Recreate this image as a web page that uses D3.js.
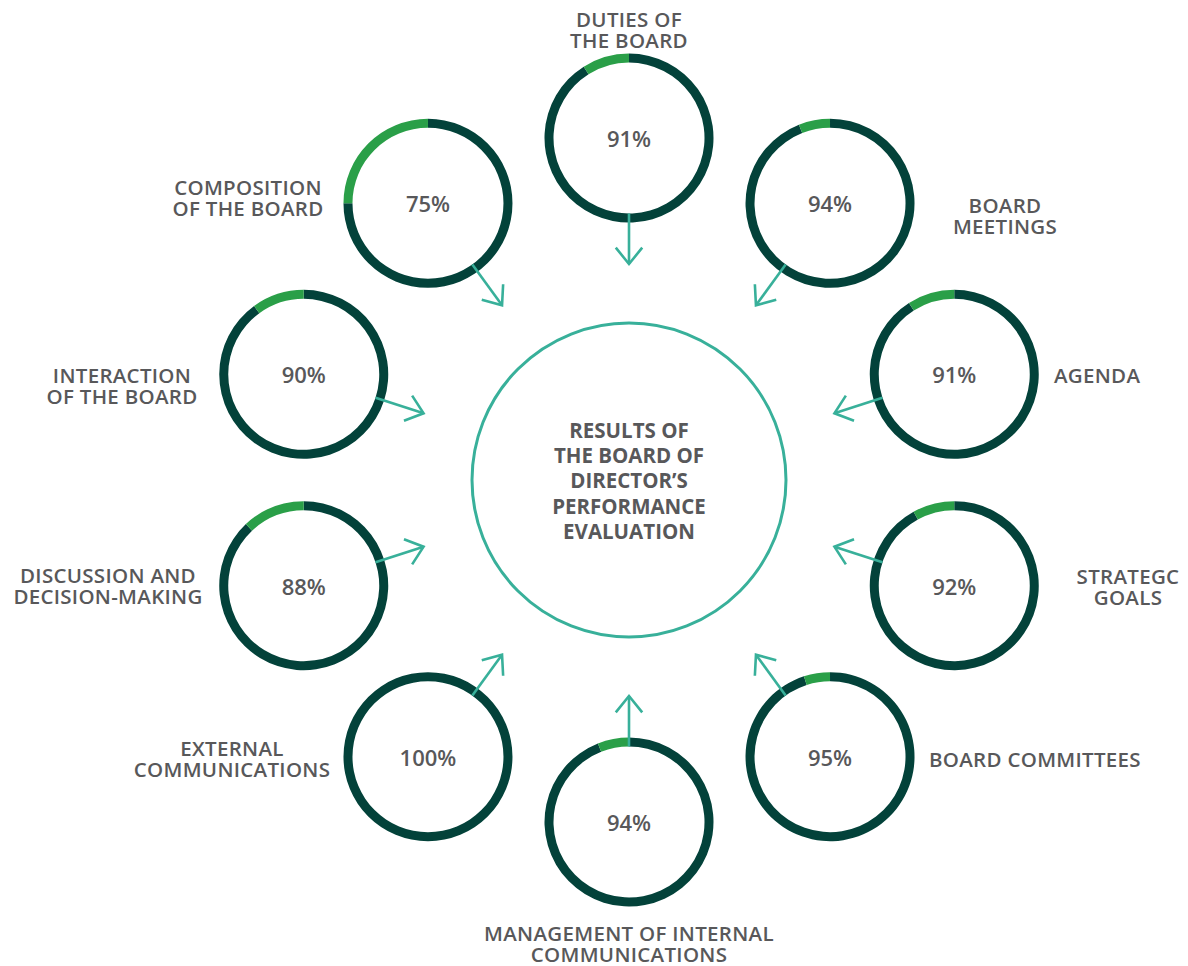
<!DOCTYPE html>
<html>
<head>
<meta charset="utf-8">
<script src="https://cdn.jsdelivr.net/npm/d3@7/dist/d3.min.js"></script>
<style>
  html, body { margin: 0; padding: 0; background: #ffffff; }
  svg { display: block; }
  text { font-family: "Open Sans", "Noto Sans", sans-serif; fill: #58585a; }
</style>
</head>
<body>
<svg id="chart" width="1188" height="966"></svg>
<script>
// Evaluation areas, clockwise from the top
const categories = [
  "Duties of the board",
  "Board meetings",
  "Agenda",
  "Strategic goals",
  "Board committees",
  "Management of internal communications",
  "External communications",
  "Discussion and decision-making",
  "Interaction of the board",
  "Composition of the board"
];
// Score of each area, %
const scores = [91, 94, 91, 92, 95, 94, 100, 88, 90, 75];
// Caption lines shown beside each ring
const labelLines = [
  ["DUTIES OF", "THE BOARD"],
  ["BOARD", "MEETINGS"],
  ["AGENDA"],
  ["STRATEGC", "GOALS"],
  ["BOARD COMMITTEES"],
  ["MANAGEMENT OF INTERNAL", "COMMUNICATIONS"],
  ["EXTERNAL", "COMMUNICATIONS"],
  ["DISCUSSION AND", "DECISION-MAKING"],
  ["INTERACTION", "OF THE BOARD"],
  ["COMPOSITION", "OF THE BOARD"]
];
const centerLines = ["RESULTS OF", "THE BOARD OF", "DIRECTOR\u2019S", "PERFORMANCE", "EVALUATION"];

// Layout
const cx = 629, cy = 480;          // hub centre
const orbitR = 342;                // distance from hub to each ring centre
const ringOuter = 84.5, ringInner = 75.5;
const hubR = 157;
const arrowTipR = 216;

// Caption placement: first baseline and alignment of each caption
const labelPos = [
  { x: 629,  y: 27,  anchor: "middle" },
  { x: 1005, y: 213, anchor: "middle" },
  { x: 1054, y: 383, anchor: "start" },
  { x: 1128, y: 584, anchor: "middle" },
  { x: 929,  y: 767, anchor: "start" },
  { x: 629,  y: 941, anchor: "middle" },
  { x: 232,  y: 756, anchor: "middle" },
  { x: 108,  y: 583, anchor: "middle" },
  { x: 122,  y: 383, anchor: "middle" },
  { x: 248,  y: 195, anchor: "middle" }
];

const colors = { dark: "#03423a", light: "#2a9f48", teal: "#38b09a" };

const svg = d3.select("#chart");

// Angle of each ring around the hub (0 = top, clockwise)
const angle = d3.scaleBand().domain(d3.range(categories.length)).range([0, 2 * Math.PI]).paddingInner(0).paddingOuter(0).align(0);
const theta = i => angle(i);
const pos = (i, r) => [cx + r * Math.sin(theta(i)), cy - r * Math.cos(theta(i))];

// Value scale: percent -> arc angle
const arcScale = d3.scaleLinear().domain([0, 100]).range([0, 2 * Math.PI]);
const arc = d3.arc().innerRadius(ringInner).outerRadius(ringOuter);

// Hub circle
svg.append("circle")
  .attr("cx", cx).attr("cy", cy).attr("r", hubR)
  .attr("fill", "none").attr("stroke", colors.teal).attr("stroke-width", 3);

svg.append("g").selectAll("text")
  .data(centerLines).join("text")
  .attr("x", cx)
  .attr("y", (d, i) => 438 + i * 25.2)
  .attr("text-anchor", "middle")
  .style("font-weight", 700)
  .style("font-size", "20.5px")
  .text(d => d);

// Rings
const rings = svg.append("g").selectAll("g")
  .data(scores).join("g")
  .attr("transform", (d, i) => { const p = pos(i, orbitR); return `translate(${p[0]},${p[1]})`; });

rings.append("path")
  .attr("d", d => arc({ startAngle: 0, endAngle: arcScale(d) }))
  .attr("fill", colors.dark);

rings.filter(d => d < 100).append("path")
  .attr("d", d => arc({ startAngle: arcScale(d), endAngle: arcScale(100) }))
  .attr("fill", colors.light);

rings.append("text")
  .attr("x", 0).attr("y", 9)
  .attr("text-anchor", "middle")
  .style("font-size", "22px")
  .style("font-weight", 600)
  .text(d => d + "%");

// Arrows from each ring toward the hub
const arrows = svg.append("g")
  .attr("stroke", colors.teal).attr("stroke-width", 2.6)
  .attr("fill", "none").attr("stroke-linecap", "butt");

categories.forEach((c, i) => {
  const start = pos(i, orbitR - ringInner);
  const tip = pos(i, arrowTipR);
  arrows.append("line")
    .attr("x1", start[0]).attr("y1", start[1])
    .attr("x2", tip[0]).attr("y2", tip[1]);
  // direction from tip back toward the ring
  const dx = start[0] - tip[0], dy = start[1] - tip[1];
  const len = Math.hypot(dx, dy);
  const ux = dx / len, uy = dy / len;
  const arm = 21, a = 39 * Math.PI / 180;
  const rot = (s) => [
    tip[0] + arm * (ux * Math.cos(s * a) - uy * Math.sin(s * a)),
    tip[1] + arm * (ux * Math.sin(s * a) + uy * Math.cos(s * a))
  ];
  const p1 = rot(1), p2 = rot(-1);
  arrows.append("path")
    .attr("d", `M${p1[0]},${p1[1]}L${tip[0]},${tip[1]}L${p2[0]},${p2[1]}`)
    .attr("stroke-linejoin", "miter");
});

// Captions
const labels = svg.append("g").selectAll("text")
  .data(labelLines).join("text")
  .attr("text-anchor", (d, i) => labelPos[i].anchor)
  .style("font-size", "20.5px")
  .style("letter-spacing", "0.3px")
  .style("font-weight", 600);

labels.each(function (lines, i) {
  d3.select(this).selectAll("tspan")
    .data(lines).join("tspan")
    .attr("x", labelPos[i].x)
    .attr("y", (d, j) => labelPos[i].y + j * 21)
    .text(d => d);
});
</script>
</body>
</html>
